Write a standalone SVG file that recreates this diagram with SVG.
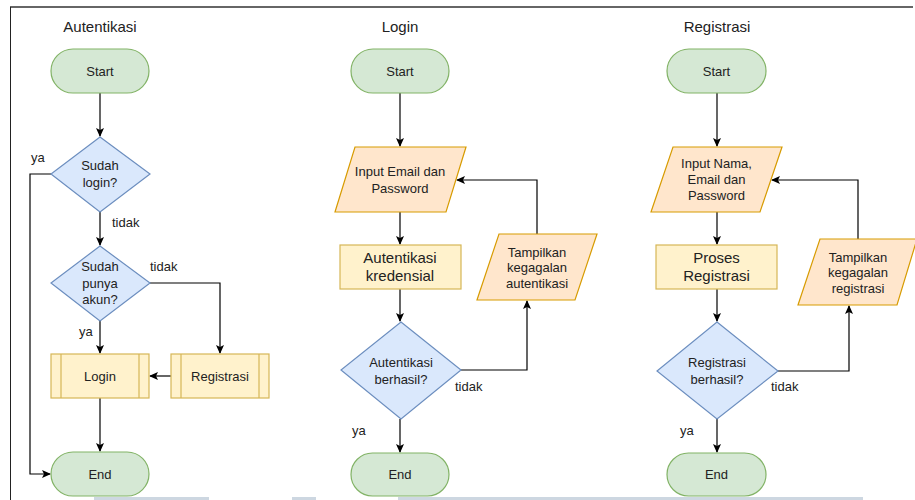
<svg xmlns="http://www.w3.org/2000/svg" width="915" height="500" viewBox="0 0 915 500">
<defs>
<marker id="arr" markerWidth="10" markerHeight="10" refX="8" refY="4" orient="auto" markerUnits="userSpaceOnUse">
<path d="M0,0 L9,4 L0,8 L2,4 z" fill="#000"/>
</marker>
<style>
.t{font-family:"Liberation Sans",Arial,sans-serif;font-size:13px;fill:#222;text-anchor:middle}
.tl{font-family:"Liberation Sans",Arial,sans-serif;font-size:13px;fill:#222}
.big{font-family:"Liberation Sans",Arial,sans-serif;font-size:15px;fill:#222;text-anchor:middle}
.term{fill:#d5e8d4;stroke:#82b366;stroke-width:1.2}
.dec{fill:#dae8fc;stroke:#6c8ebf;stroke-width:1.2}
.proc{fill:#fff2cc;stroke:#d6b656;stroke-width:1.2}
.io{fill:#ffe6cc;stroke:#d79b00;stroke-width:1.2}
.c{fill:none;stroke:#000;stroke-width:1.2}
.ca{fill:none;stroke:#000;stroke-width:1.2;marker-end:url(#arr)}
</style>
</defs>
<rect width="915" height="500" fill="#fff"/>
<line x1="10" y1="7" x2="913" y2="7" stroke="#666" stroke-width="2"/>
<line x1="10.5" y1="7" x2="10.5" y2="500" stroke="#222" stroke-width="1"/>
<g fill="#cdd7e1">
<rect x="94" y="497" width="115" height="3"/>
<rect x="292" y="497" width="24" height="3"/>
<rect x="398" y="497" width="465" height="3"/>
</g>

<g id="titles">
<text class="big" x="100" y="32">Autentikasi</text>
<text class="big" x="400" y="32">Login</text>
<text class="big" x="717" y="32">Registrasi</text>
</g>

<g id="connectors">
<path class="ca" d="M100,93 V136"/>
<path class="ca" d="M51,174 H30 V474 H50"/>
<path class="ca" d="M100,212 V245"/>
<path class="ca" d="M100,321 V353"/>
<path class="ca" d="M150,283 H220 V353"/>
<path class="ca" d="M171,376 H150"/>
<path class="ca" d="M100,398 V451"/>

<path class="ca" d="M400,93 V146"/>
<path class="ca" d="M400,212 V244"/>
<path class="ca" d="M400,289 V321"/>
<path class="ca" d="M461,370 H527 V301"/>
<path class="ca" d="M537,234 V180 H457"/>
<path class="ca" d="M400,419 V452"/>

<path class="ca" d="M717,93 V146"/>
<path class="ca" d="M717,212 V244"/>
<path class="ca" d="M717,289 V321"/>
<path class="ca" d="M778,371 H849 V306"/>
<path class="ca" d="M858,239 V180 H772"/>
<path class="ca" d="M717,419 V452"/>
</g>

<g id="labels">
<text class="tl" x="31" y="162">ya</text>
<text class="tl" x="112" y="227">tidak</text>
<text class="tl" x="150" y="271">tidak</text>
<text class="tl" x="79" y="336">ya</text>
<text class="tl" x="455" y="391">tidak</text>
<text class="tl" x="352" y="435">ya</text>
<text class="tl" x="771" y="391">tidak</text>
<text class="tl" x="680" y="435">ya</text>
</g>

<g id="a-start"><rect class="term" x="51" y="49" width="98" height="44" rx="22"/><text class="t" x="100" y="75.5">Start</text></g>
<g id="a-login-q"><polygon class="dec" points="100,137 150,174 100,212 51,174"/><text class="t" x="100" y="170">Sudah</text><text class="t" x="100" y="187">login?</text></g>
<g id="a-akun-q"><polygon class="dec" points="100,246 150,283 100,321 51,283"/><text class="t" x="100" y="271">Sudah</text><text class="t" x="100" y="287.5">punya</text><text class="t" x="100" y="304">akun?</text></g>
<g id="a-login"><rect class="proc" x="51" y="354" width="98" height="44"/><line class="proc" x1="61" y1="354" x2="61" y2="398"/><line class="proc" x1="139" y1="354" x2="139" y2="398"/><text class="t" x="100" y="380.5">Login</text></g>
<g id="a-registrasi"><rect class="proc" x="171" y="354" width="98" height="44"/><line class="proc" x1="181" y1="354" x2="181" y2="398"/><line class="proc" x1="259" y1="354" x2="259" y2="398"/><text class="t" x="220" y="380.5">Registrasi</text></g>
<g id="a-end"><rect class="term" x="51" y="452" width="98" height="44" rx="22"/><text class="t" x="100" y="478.5">End</text></g>

<g id="l-start"><rect class="term" x="351" y="49" width="98" height="44" rx="22"/><text class="t" x="400" y="75.5">Start</text></g>
<g id="l-input"><polygon class="io" points="355,147 466,147 446,212 335,212"/><text class="t" x="400" y="176">Input Email dan</text><text class="t" x="400" y="192.5">Password</text></g>
<g id="l-auth"><rect class="proc" x="340" y="245" width="121" height="44"/><text class="big" x="400" y="263">Autentikasi</text><text class="big" x="400" y="281">kredensial</text></g>
<g id="l-dec"><polygon class="dec" points="401,322 461,370 401,419 341,370"/><text class="t" x="401" y="367">Autentikasi</text><text class="t" x="401" y="384">berhasil?</text></g>
<g id="l-fail"><polygon class="io" points="499,234 597,234 575,300 477,300"/><text class="t" x="537" y="256.5">Tampilkan</text><text class="t" x="537" y="272">kegagalan</text><text class="t" x="537" y="288">autentikasi</text></g>
<g id="l-end"><rect class="term" x="351" y="453" width="98" height="43" rx="21.5"/><text class="t" x="400" y="479">End</text></g>

<g id="r-start"><rect class="term" x="667" y="49" width="99" height="44" rx="22"/><text class="t" x="716.5" y="75.5">Start</text></g>
<g id="r-input"><polygon class="io" points="673,147 782,147 760,212 651,212"/><text class="t" x="716.5" y="168">Input Nama,</text><text class="t" x="716.5" y="184">Email dan</text><text class="t" x="716.5" y="200">Password</text></g>
<g id="r-proses"><rect class="proc" x="656" y="245" width="121" height="44"/><text class="big" x="716.5" y="263">Proses</text><text class="big" x="716.5" y="281">Registrasi</text></g>
<g id="r-dec"><polygon class="dec" points="717,322 778,371 717,419 657,371"/><text class="t" x="717" y="367">Registrasi</text><text class="t" x="717" y="384">berhasil?</text></g>
<g id="r-fail"><polygon class="io" points="820,239 917,239 897,305 798,305"/><text class="t" x="858" y="261.5">Tampilkan</text><text class="t" x="858" y="277">kegagalan</text><text class="t" x="858" y="293">registrasi</text></g>
<g id="r-end"><rect class="term" x="667" y="453" width="99" height="43" rx="21.5"/><text class="t" x="716.5" y="479">End</text></g>
</svg>
